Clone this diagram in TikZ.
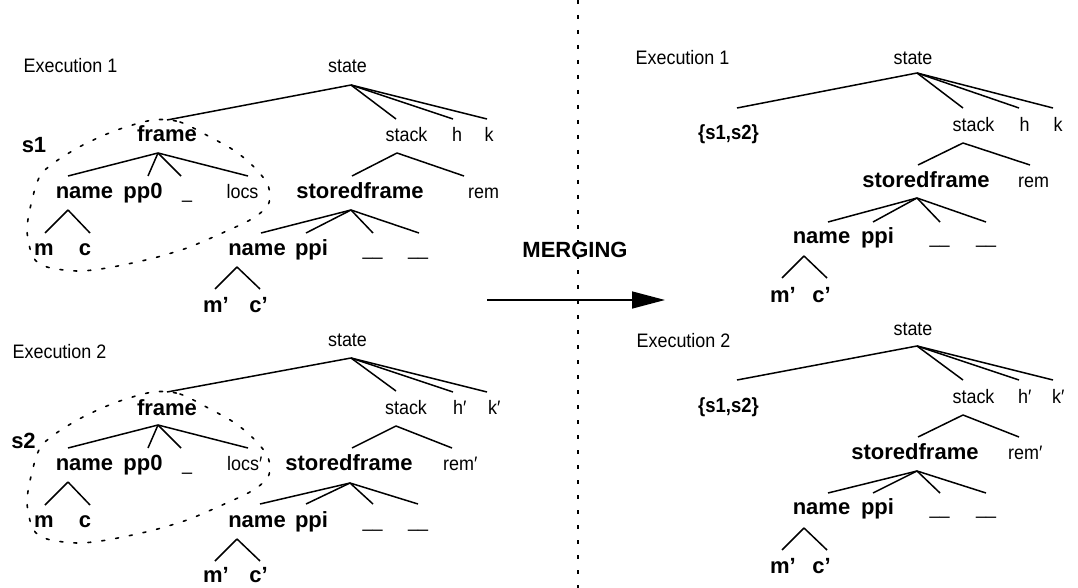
\documentclass[tikz,border=0pt]{standalone}
\usepackage{fontspec}
\setmainfont{Liberation Sans}
\newfontfamily\lightf{Liberation Sans}[FakeStretch=0.92]
\newfontfamily\bcond{Liberation Sans Bold}[FakeStretch=0.9]
\usetikzlibrary{arrows.meta}
\tikzset{
  lt/.style={font=\lightf\fontsize{19.5}{22}\selectfont, inner sep=0pt, anchor=base},
  bt/.style={font=\bfseries\fontsize{22}{25}\selectfont, inner sep=0pt, anchor=base},
  bset/.style={font=\bcond\fontsize{20.5}{24}\selectfont, inner sep=0pt, anchor=base},
  br/.style={line width=1.5pt},
  grp/.style={line width=1.6pt, dash pattern=on 3pt off 11pt, line cap=round},
  sepline/.style={line width=2pt, dash pattern=on 4pt off 11pt},
}
\newcommand\fan[3]{%
  \coordinate (#1) at #2;
  \foreach \xx/\yy [count=\i] in {#3} {\coordinate (#1-\i) at (\xx,\yy); \draw[br] (#1) -- (#1-\i);}
}
\begin{document}
\begin{tikzpicture}[x=1pt,y=-1pt]
\useasboundingbox (0,0) rectangle (1078,588);

% ---------------- upper left: Execution 1
\node[lt] (A-ex) at (70.5,73) {Execution 1};
\node[lt] (A-state) at (347.5,73) {state};
\node[bt] (A-frame) at (167,142) {frame};
\node[bt] (A-s) at (34,153) {s1};
\node[lt] (A-stack) at (406.5,142) {stack};
\node[lt] (A-h) at (457,142) {h};
\node[lt] (A-k) at (489,142) {k};
\node[bt] (A-name) at (84.5,198) {name};
\node[bt] (A-pp0) at (143,198) {pp0};
\node[lt] (A-u) at (187,198) {\_};
\node[lt] (A-locs) at (242.5,198) {locs};
\node[bt] (A-sf) at (360,198) {storedframe};
\node[lt,anchor=base west] (A-rem) at (468,198) {rem};
\node[bt] (A-m) at (44,255) {m};
\node[bt] (A-c) at (85,255) {c};
\node[bt] (A-name2) at (257,255) {name};
\node[bt] (A-ppi) at (311.5,255) {ppi};
\node[lt] (A-u1) at (372.5,255) {\_\_};
\node[lt] (A-u2) at (418,255) {\_\_};
\node[bt] (A-m2) at (216,312) {m’};
\node[bt] (A-c2) at (258.5,312) {c’};
\fan{A0}{(351,85)}{167/120,396/119,453/119,487/119}
\fan{A1}{(158,153)}{68/176,148/176,181/176,248/176}
\fan{A2}{(68,210)}{45/233,90/233}
\fan{A3}{(397,153)}{352/176,464/176}
\fan{A4}{(351,210)}{261/233,306/233,373/233,419/233}
\fan{A5}{(237,267)}{215/289,260/289}
\draw[grp] plot[smooth cycle] coordinates {(153,120) (180,122) (210,137) (235,151) (254,167) (267,183) (270,197) (266,208) (250,220) (220,234) (187,248) (150,259) (107,268) (77,271) (47,267) (33,257) (27,230) (32,200) (40,176) (55,162) (83,145) (117,130)};

% ---------------- lower left: Execution 2
\node[lt] (B-ex) at (59.5,358) {Execution 2};
\node[lt] (B-state) at (347.5,346) {state};
\node[bt] (B-frame) at (167,415) {frame};
\node[bt] (B-s) at (23.5,448) {s2};
\node[lt] (B-stack) at (406,414) {stack};
\node[lt,anchor=base west] (B-h) at (453,414) {h′};
\node[lt,anchor=base west] (B-k) at (488,414) {k′};
\node[bt] (B-name) at (84.5,470) {name};
\node[bt] (B-pp0) at (143,470) {pp0};
\node[lt] (B-u) at (187,470) {\_};
\node[lt,anchor=base west] (B-locs) at (227,470) {locs′};
\node[bt] (B-sf) at (349,470) {storedframe};
\node[lt,anchor=base west] (B-rem) at (443,470) {rem′};
\node[bt] (B-m) at (44,527) {m};
\node[bt] (B-c) at (85,527) {c};
\node[bt] (B-name2) at (257,527) {name};
\node[bt] (B-ppi) at (311.5,527) {ppi};
\node[lt] (B-u1) at (372.5,527) {\_\_};
\node[lt] (B-u2) at (418,527) {\_\_};
\node[bt] (B-m2) at (216,582) {m’};
\node[bt] (B-c2) at (258.5,582) {c’};
\fan{B0}{(351,358)}{167/392,396/391,453/392,487/392}
\fan{B1}{(158,425)}{68/448,148/448,181/448,248/448}
\fan{B2}{(68,482)}{45/505,90/505}
\fan{B3}{(396,426)}{352/448,452/448}
\fan{B4}{(350,483)}{260/504,306/504,373/504,418/504}
\fan{B5}{(237,539)}{215/561,260/561}
\draw[grp,shift={(0,272)}] plot[smooth cycle] coordinates {(153,120) (180,122) (210,137) (235,151) (254,167) (267,183) (270,197) (266,208) (250,220) (220,234) (187,248) (150,259) (107,268) (77,271) (47,267) (33,257) (27,230) (32,200) (40,176) (55,162) (83,145) (117,130)};

% ---------------- middle
\coordinate (sepT) at (578,0);
\coordinate (sepB) at (578,588);
\draw[sepline] (sepT) -- (sepB);
\node[bt] (merge) at (575,257) {MERGING};
\coordinate (arS) at (487,300);
\coordinate (arE) at (665,300);
\draw[line width=1.5pt,-{Triangle[length=33pt,width=17pt]}] (arS) -- (arE);

% ---------------- upper right: merged Execution 1
\node[lt] (C-ex) at (682.5,65) {Execution 1};
\node[lt] (C-state) at (913,65) {state};
\node[bset] (C-set) at (728.5,140) {\{s1,s2\}};
\node[lt] (C-stack) at (973.5,132) {stack};
\node[lt] (C-h) at (1024.5,132) {h};
\node[lt] (C-k) at (1058,132) {k};
\node[bt] (C-sf) at (926,187) {storedframe};
\node[lt,anchor=base west] (C-rem) at (1018,187) {rem};
\node[bt] (C-name) at (821.5,243) {name};
\node[bt] (C-ppi) at (877.5,243) {ppi};
\node[lt] (C-u1) at (939.5,243) {\_\_};
\node[lt] (C-u2) at (986,243) {\_\_};
\node[bt] (C-m2) at (783,302) {m’};
\node[bt] (C-c2) at (821.5,302) {c’};
\fan{C0}{(917,73)}{737/108,963/108,1019/108,1053/108}
\fan{C1}{(963,143)}{918/165,1030/165}
\fan{C2}{(917,198)}{828/222,873/222,940/222,986/222}
\fan{C3}{(804,256)}{782/278,827/278}

% ---------------- lower right: merged Execution 2
\node[lt] (D-ex) at (683.5,347) {Execution 2};
\node[lt] (D-state) at (913,335) {state};
\node[bset] (D-set) at (728.5,412) {\{s1,s2\}};
\node[lt] (D-stack) at (973.5,403) {stack};
\node[lt,anchor=base west] (D-h) at (1018,403) {h′};
\node[lt,anchor=base west] (D-k) at (1052,403) {k′};
\node[bt] (D-sf) at (915,459) {storedframe};
\node[lt,anchor=base west] (D-rem) at (1008,459) {rem′};
\node[bt] (D-name) at (821.5,514) {name};
\node[bt] (D-ppi) at (877.5,514) {ppi};
\node[lt] (D-u1) at (939.5,514) {\_\_};
\node[lt] (D-u2) at (986,514) {\_\_};
\node[bt] (D-m2) at (783,573) {m’};
\node[bt] (D-c2) at (821.5,573) {c’};
\fan{D0}{(917,346)}{737/380,963/380,1019/380,1053/380}
\fan{D1}{(963,415)}{918/437,1019/437}
\fan{D2}{(917,471)}{828/493,873/493,940/493,986/493}
\fan{D3}{(804,528)}{782/550,827/550}
\end{tikzpicture}
\end{document}
